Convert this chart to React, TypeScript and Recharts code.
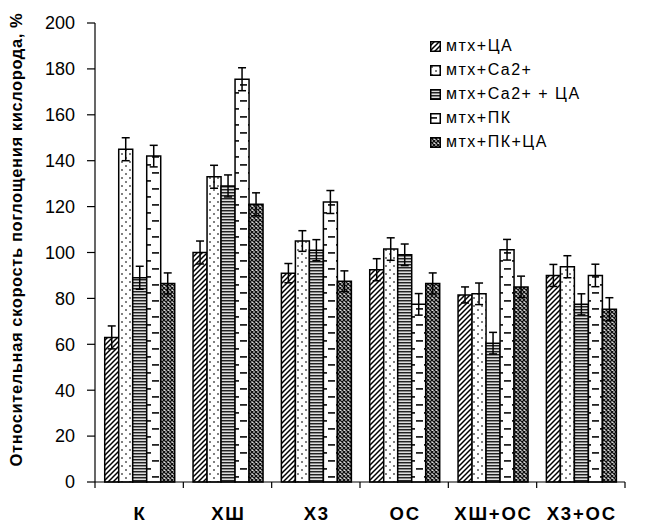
import React from 'react';
import { BarChart, Bar, XAxis, YAxis, ErrorBar, Legend } from 'recharts';

const categories = ['К', 'ХШ', 'Х3', 'ОС', 'ХШ+ОС', 'Х3+ОС'];

const mtxCA = [63, 100, 91, 92.5, 81.5, 90];
const mtxCa = [145, 133, 105, 101.5, 82, 93.8];
const mtxCaCA = [89, 129, 101, 99, 60.5, 77.4];
const mtxPK = [142, 175.5, 122, 77.4, 101.2, 90];
const mtxPKCA = [86.5, 121, 87.5, 86.5, 85, 75.3];

const errCA = [5, 5, 4.2, 4.8, 3.5, 4.8];
const errCa = [5, 5, 4.5, 4.9, 4.7, 4.8];
const errCaCA = [5, 4.8, 4.6, 4.7, 4.7, 4.6];
const errPK = [4.7, 5, 5, 4.7, 4.5, 4.9];
const errPKCA = [4.6, 5, 4.5, 4.6, 4.7, 5];

const yTicks = [0, 20, 40, 60, 80, 100, 120, 140, 160, 180, 200];

const seriesNames = ['мтх+ЦА', 'мтх+Ca2+', 'мтх+Ca2+ + ЦА', 'мтх+ПК', 'мтх+ПК+ЦА'];
const seriesValues = [mtxCA, mtxCa, mtxCaCA, mtxPK, mtxPKCA];
const seriesErrors = [errCA, errCa, errCaCA, errPK, errPKCA];
const patternIds = ['pHatch', 'pDots', 'pStripes', 'pDashes', 'pCross'];

const data = categories.map((c, i) => {
  const row: Record<string, any> = { cat: c };
  seriesValues.forEach((arr, s) => {
    row['v' + s] = arr[i];
    row['e' + s] = seriesErrors[s][i];
  });
  return row;
});

const FONT = '"Liberation Sans", Arial, sans-serif';

const XTick = (props: any) => {
  const { x, y, payload, index, visibleTicksCount } = props;
  const half = payload && payload.offset ? payload.offset : 44.17;
  const last = index === (visibleTicksCount ?? categories.length) - 1;
  return (
    <g>
      <line x1={x - half} y1={y} x2={x - half} y2={y + 6} stroke="#000" strokeWidth={1.2} />
      {last && <line x1={x + half} y1={y} x2={x + half} y2={y + 6} stroke="#000" strokeWidth={1.2} />}
      <text
        x={x + 1}
        y={y + 37.5}
        textAnchor="middle"
        fontFamily={FONT}
        fontWeight="bold"
        fontSize={18.5}
        letterSpacing={1.8}
        fill="#000"
      >
        {payload.value}
      </text>
    </g>
  );
};

const YLabel = (props: any) => {
  const vb = props.viewBox || { x: 0, y: 23, width: 95, height: 459 };
  const cx = vb.x + 22;
  const cy = vb.y + vb.height / 2 - 13;
  return (
    <text
      x={cx}
      y={cy}
      transform={`rotate(-90, ${cx}, ${cy})`}
      textAnchor="middle"
      fontFamily={FONT}
      fontWeight="bold"
      fontSize={16.5}
      letterSpacing={0.6}
      fill="#000"
    >
      Относительная скорость поглощения кислорода, %
    </text>
  );
};

const renderLegend = () => (
  <div style={{ fontFamily: FONT, fontSize: 16, letterSpacing: 1.5, color: '#000' }}>
    {seriesNames.map((n, i) => (
      <div key={n} style={{ display: 'flex', alignItems: 'center', height: 24, whiteSpace: 'nowrap' }}>
        <svg width={11} height={11} style={{ marginRight: 5, flex: 'none' }}>
          <rect x={0.75} y={0.75} width={9.5} height={9.5} fill={`url(#${patternIds[i]})`} stroke="#000" strokeWidth={1.5} />
        </svg>
        <span>{n}</span>
      </div>
    ))}
  </div>
);

export default function App() {
  return (
    <div style={{ position: 'absolute', left: 0, top: 0, width: 654, height: 523, background: '#fff' }}>
      <BarChart
        width={654}
        height={523}
        data={data}
        margin={{ top: 23, right: 29, bottom: 0, left: 0 }}
        barCategoryGap="11%"
        barGap={0}
      >
        <defs>
          <pattern id="pHatch" patternUnits="userSpaceOnUse" width={5} height={5}>
            <rect width={5} height={5} fill="#fff" />
            <path d="M-1,1 L1,-1 M0,5 L5,0 M4,6 L6,4" stroke="#000" strokeWidth={1.5} />
          </pattern>
          <pattern id="pDots" patternUnits="userSpaceOnUse" width={8} height={8}>
            <rect width={8} height={8} fill="#fff" />
            <circle cx={2} cy={2} r={1} fill="#555" />
            <circle cx={6} cy={6} r={1} fill="#555" />
          </pattern>
          <pattern id="pStripes" patternUnits="userSpaceOnUse" width={4} height={3}>
            <rect width={4} height={3} fill="#ddd" />
            <rect y={0} width={4} height={1} fill="#222" />
            <rect y={1} width={4} height={1} fill="#888" />
          </pattern>
          <pattern id="pDashes" patternUnits="userSpaceOnUse" width={16} height={16}>
            <rect width={16} height={16} fill="#fff" />
            <rect x={0} y={4} width={7} height={1.8} fill="#222" />
            <rect x={8} y={12} width={7} height={1.8} fill="#222" />
          </pattern>
          <pattern id="pCross" patternUnits="userSpaceOnUse" width={4} height={4}>
            <rect width={4} height={4} fill="#ddd" />
            <path d="M0,0 L4,4 M4,0 L0,4" stroke="#111" strokeWidth={1.3} />
          </pattern>
        </defs>
        <XAxis
          dataKey="cat"
          height={41}
          axisLine={{ stroke: '#000', strokeWidth: 1.2 }}
          tickLine={false}
          tickSize={0}
          tickMargin={0}
          tick={<XTick />}
          interval={0}
        />
        <YAxis
          width={95}
          domain={[0, 200]}
          ticks={yTicks}
          interval={0}
          axisLine={{ stroke: '#000', strokeWidth: 1.2 }}
          tickLine={{ stroke: '#000', strokeWidth: 1.2 }}
          tickSize={8}
          tickMargin={12}
          tick={{ fill: '#000', fontSize: 18, fontFamily: FONT }}
          label={<YLabel />}
        />
        <Legend
          layout="vertical"
          align="center"
          verticalAlign="middle"
          content={renderLegend}
          wrapperStyle={{ left: 430, top: 34, width: 215 }}
        />
        {seriesNames.map((n, i) => (
          <Bar
            key={n}
            dataKey={'v' + i}
            name={n}
            fill={`url(#${patternIds[i]})`}
            stroke="#000"
            strokeWidth={1.5}
            isAnimationActive={false}
          >
            <ErrorBar dataKey={'e' + i} width={4} stroke="#000" strokeWidth={1.5} />
          </Bar>
        ))}
      </BarChart>
    </div>
  );
}
